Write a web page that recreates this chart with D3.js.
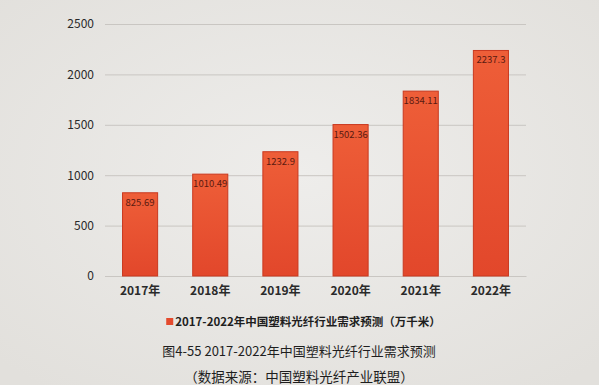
<!DOCTYPE html>
<html>
<head>
<meta charset="utf-8">
<script src="https://cdn.jsdelivr.net/npm/d3@7"></script>
<style>
  body { margin: 0; background: #e8e6e3; }
  svg { display: block; }
</style>
</head>
<body>
<svg id="chart" width="599" height="385"></svg>
<script>
// data
const years = ["2017年", "2018年", "2019年", "2020年", "2021年", "2022年"];
const demand = [825.69, 1010.49, 1232.9, 1502.36, 1834.11, 2237.3];
const valueLabels = ["825.69", "1010.49", "1232.9", "1502.36", "1834.11", "2237.3"];
const yTicks = [0, 500, 1000, 1500, 2000, 2500];
const legendText = "2017-2022年中国塑料光纤行业需求预测（万千米）";
const captionText = "图4-55 2017-2022年中国塑料光纤行业需求预测";
const sourceText = "（数据来源：中国塑料光纤产业联盟）";

const width = 599, height = 385;
const margin = { top: 24, bottom: 109, left: 105, right: 73 };
const font = "'Noto Sans CJK SC', 'Open Sans', sans-serif";

const svg = d3.select("#chart");

// background, slightly lit in the middle like the photo
const defs = svg.append("defs");
const bg = defs.append("radialGradient").attr("id", "bg")
    .attr("cx", "50%").attr("cy", "45%").attr("r", "70%");
bg.append("stop").attr("offset", "0%").attr("stop-color", "#eeedeb");
bg.append("stop").attr("offset", "100%").attr("stop-color", "#e2e0dc");

const barGrad = defs.append("linearGradient").attr("id", "bar")
    .attr("x1", 0).attr("x2", 0).attr("y1", 0).attr("y2", 1);
barGrad.append("stop").attr("offset", "0%").attr("stop-color", "#ee5e38");
barGrad.append("stop").attr("offset", "100%").attr("stop-color", "#e2472b");

svg.append("rect").attr("width", width).attr("height", height).attr("fill", "url(#bg)");

const x = d3.scaleBand()
    .domain(years)
    .range([margin.left, width - margin.right])
    .paddingInner(0.5)
    .paddingOuter(0.25);

const y = d3.scaleLinear()
    .domain([0, 2500])
    .range([height - margin.bottom, margin.top]);

// y axis with gridlines
svg.append("g")
    .attr("transform", `translate(${margin.left},0)`)
    .call(d3.axisLeft(y).tickValues(yTicks).tickFormat(d3.format("d"))
        .tickSize(-(width - margin.left - margin.right))
        .tickPadding(11))
    .call(g => g.select(".domain").remove())
    .call(g => g.selectAll(".tick line").attr("stroke", "#c9c6c2").attr("stroke-width", 1))
    .call(g => g.selectAll(".tick text")
        .attr("font-family", font).attr("font-size", 12).attr("fill", "#2a2a2a"));

// x axis labels
svg.append("g")
    .attr("transform", `translate(0,${height - margin.bottom})`)
    .call(d3.axisBottom(x).tickSize(0).tickPadding(10))
    .call(g => g.select(".domain").attr("stroke", "#c9c6c2"))
    .call(g => g.selectAll(".tick text")
        .attr("font-family", font).attr("font-size", 12)
        .attr("font-weight", "bold").attr("fill", "#2a2a2a"));

// bars
svg.append("g")
    .selectAll("rect")
    .data(demand)
    .join("rect")
    .attr("x", (d, i) => x(years[i]))
    .attr("y", d => y(d))
    .attr("width", x.bandwidth())
    .attr("height", d => y(0) - y(d))
    .attr("fill", "url(#bar)")
    .attr("stroke", "#c9391f")
    .attr("stroke-width", 1);

// value labels inside top of bars
svg.append("g")
    .selectAll("text")
    .data(demand)
    .join("text")
    .attr("x", (d, i) => x(years[i]) + x.bandwidth() / 2)
    .attr("y", d => y(d) + 13)
    .attr("text-anchor", "middle")
    .attr("font-family", font)
    .attr("font-size", 9.5)
    .attr("fill", "#5a1a10")
    .text((d, i) => valueLabels[i]);

// legend
const legend = svg.append("g").attr("transform", "translate(304,322)");
const lt = legend.append("text")
    .attr("x", 4)
    .attr("y", 4)
    .attr("text-anchor", "middle")
    .attr("font-family", font)
    .attr("font-size", 11.5)
    .attr("font-weight", "bold")
    .attr("fill", "#1e1e1e")
    .text(legendText);
const lb = lt.node().getBBox();
legend.append("rect")
    .attr("x", lb.x - 9).attr("y", -4)
    .attr("width", 7).attr("height", 7)
    .attr("fill", "#e44a2d");

// caption and source
svg.append("text")
    .attr("x", 299).attr("y", 356)
    .attr("text-anchor", "middle")
    .attr("font-family", font)
    .attr("font-size", 13)
    .attr("fill", "#1e1e1e")
    .text(captionText);

svg.append("text")
    .attr("x", 299).attr("y", 382)
    .attr("text-anchor", "middle")
    .attr("font-family", font)
    .attr("font-size", 13.5)
    .attr("fill", "#1e1e1e")
    .text(sourceText);
</script>
</body>
</html>
